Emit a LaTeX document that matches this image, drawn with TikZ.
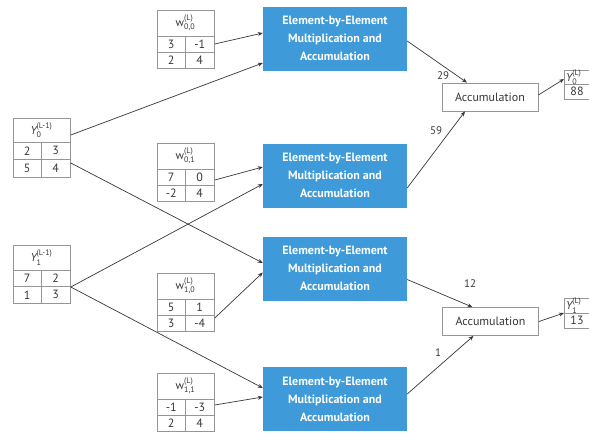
\documentclass[tikz,border=0pt]{standalone}
\usepackage{fontspec}
\setmainfont{PT Sans}
\usepackage{amsmath}
\usetikzlibrary{calc,arrows.meta}
\definecolor{eblue}{RGB}{62,154,216}
\definecolor{lgray}{RGB}{150,150,150}
\definecolor{tgray}{RGB}{55,55,55}
\newcommand\gtab[5]{%
  \node[tframe, minimum width=57, minimum height={#4+2*(#5)}, anchor=north west] (#1) at (#2,#3) {};
  \draw[tline] (#2,#3+#4) -- ++(57,0) (#2,#3+#4+#5) -- ++(57,0) (#2+28.5,#3+#4) -- (#2+28.5,#3+#4+2*#5);
  \coordinate (#1-h) at (#2+28.5,#3+#4/2);
  \coordinate (#1-a) at (#2+14.25,#3+#4+#5/2);
  \coordinate (#1-b) at (#2+42.75,#3+#4+#5/2);
  \coordinate (#1-c) at (#2+14.25,#3+#4+1.5*#5);
  \coordinate (#1-d) at (#2+42.75,#3+#4+1.5*#5);
}
\begin{document}
\begin{tikzpicture}[x=1pt,y=-1pt,
  mulbox/.style={fill=eblue, draw=none, text=white, font=\bfseries\fontsize{12}{18}\selectfont, align=center, minimum width=144, minimum height=64, inner sep=0},
  accbox/.style={draw=lgray, line width=0.8pt, fill=white, font=\fontsize{12}{14}\selectfont, text=tgray, minimum width=96, minimum height=28, inner sep=0},
  tframe/.style={draw=lgray, line width=0.8pt, inner sep=0},
  tline/.style={draw=lgray, line width=0.8pt},
  cell/.style={font=\fontsize{12}{13}\selectfont, text=tgray, inner sep=0},
  hcell/.style={font=\fontsize{11.5}{12}\selectfont, text=tgray, inner sep=0},
  conn/.style={draw=tgray, line width=0.7pt, -{Stealth[length=5pt,width=4pt]}},
  lab/.style={font=\fontsize{11}{12}\selectfont, text=tgray, inner sep=0}]
\useasboundingbox (0,0) rectangle (589,437);
\clip (0,0) rectangle (589,437);

% input tables
\gtab{y0}{13}{118}{24}{17.5}
\node[hcell] at (y0-h) {$\textit{Y}_{\text{0}}^{\text{(L-1)}}$};
\node[cell] at (y0-a) {2}; \node[cell] at (y0-b) {3};
\node[cell] at (y0-c) {5}; \node[cell] at (y0-d) {4};

\gtab{y1}{13}{245}{25}{16.5}
\node[hcell] at (y1-h) {$\textit{Y}_{\text{1}}^{\text{(L-1)}}$};
\node[cell] at (y1-a) {7}; \node[cell] at (y1-b) {2};
\node[cell] at (y1-c) {1}; \node[cell] at (y1-d) {3};

% weight tables
\gtab{w00}{157}{10}{26}{16}
\node[hcell] at (w00-h) {$\text{w}_{\text{0,0}}^{\text{(L)}}$};
\node[cell] at (w00-a) {3}; \node[cell] at (w00-b) {-1};
\node[cell] at (w00-c) {2}; \node[cell] at (w00-d) {4};

\gtab{w01}{157}{143}{26}{16}
\node[hcell] at (w01-h) {$\text{w}_{\text{0,1}}^{\text{(L)}}$};
\node[cell] at (w01-a) {7}; \node[cell] at (w01-b) {0};
\node[cell] at (w01-c) {-2}; \node[cell] at (w01-d) {4};

\gtab{w10}{157}{273}{26}{16}
\node[hcell] at (w10-h) {$\text{w}_{\text{1,0}}^{\text{(L)}}$};
\node[cell] at (w10-a) {5}; \node[cell] at (w10-b) {1};
\node[cell] at (w10-c) {3}; \node[cell] at (w10-d) {-4};

\gtab{w11}{157}{373}{26}{16}
\node[hcell] at (w11-h) {$\text{w}_{\text{1,1}}^{\text{(L)}}$};
\node[cell] at (w11-a) {-1}; \node[cell] at (w11-b) {-3};
\node[cell] at (w11-c) {2}; \node[cell] at (w11-d) {4};

% multiplication boxes
\node[mulbox] (b1) at (335,38.5) {Element-by-Element\\Multiplication and\\Accumulation};
\node[mulbox] (b2) at (335,175.5) {Element-by-Element\\Multiplication and\\Accumulation};
\node[mulbox] (b3) at (335,268.5) {Element-by-Element\\Multiplication and\\Accumulation};
\node[mulbox] (b4) at (335,399) {Element-by-Element\\Multiplication and\\Accumulation};

% accumulation boxes
\node[accbox] (acc1) at (490,97) {Accumulation};
\node[accbox] (acc2) at (490.5,321.5) {Accumulation};

% output tables
\node[tframe, minimum width=60, minimum height=29, anchor=north west] (y0o) at (564,70) {};
\draw[tline] (564,84) -- ++(60,0);
\coordinate (y0o-h) at (566,77);
\coordinate (y0o-a) at (577,91.5);
\node[hcell, anchor=west] at (y0o-h) {$\textit{Y}_{\text{0}}^{\text{(L)}}$};
\node[cell] at (y0o-a) {88};

\node[tframe, minimum width=60, minimum height=30, anchor=north west] (y1o) at (564,298) {};
\draw[tline] (564,313) -- ++(60,0);
\coordinate (y1o-h) at (566,305.5);
\coordinate (y1o-a) at (577,320.5);
\node[hcell, anchor=west] at (y1o-h) {$\textit{Y}_{\text{1}}^{\text{(L)}}$};
\node[cell] at (y1o-a) {13};

% connectors into multiplication boxes
\draw[conn] ($(y0.north east)+(0,17)$) -- ($(b1.west)+(0,24.5)$);
\draw[conn] ($(y0.north east)+(0,45)$) -- ($(b3.west)+(0,-5.5)$);
\draw[conn] ($(y1.north east)+(0,42)$) -- ($(b2.west)+(0,8.5)$);
\draw[conn] ($(y1.north east)+(0,42)$) -- ($(b4.west)+(0,-11)$);
\draw[conn] ($(w00.north east)+(0,34)$) -- ($(b1.west)+(0,-5.5)$);
\draw[conn] ($(w01.north east)+(0,37)$) -- ($(b2.west)+(0,-8.5)$);
\draw[conn] ($(w10.north east)+(0,45)$) -- ($(b3.west)+(0,4)$);
\draw[conn] ($(w11.north east)+(0,32)$) -- ($(b4.west)+(0,-2)$);

% connectors into accumulation boxes
\draw[conn] ($(b1.east)+(0,2.5)$) -- ($(acc1.north)+(-23,0)$);
\draw[conn] ($(b2.east)+(0,12.5)$) -- ($(acc1.south)+(-25,0)$);
\draw[conn] ($(b3.east)+(0,11)$) -- ($(acc2.north)+(-18,0)$);
\draw[conn] ($(b4.east)+(0,-5)$) -- ($(acc2.south)+(-17,0)$);

% to outputs
\draw[conn] ($(acc1.east)+(0,-2)$) -- ($(y0o.north west)+(0,9)$);
\draw[conn] (acc2.east) -- ($(y1o.north west)+(0,15)$);

% labels
\node[lab] (l29) at (443,76) {29};
\node[lab] (l59) at (436,131) {59};
\node[lab] (l12) at (470,284) {12};
\node[lab] (l1) at (438,353) {1};
\end{tikzpicture}
\end{document}
